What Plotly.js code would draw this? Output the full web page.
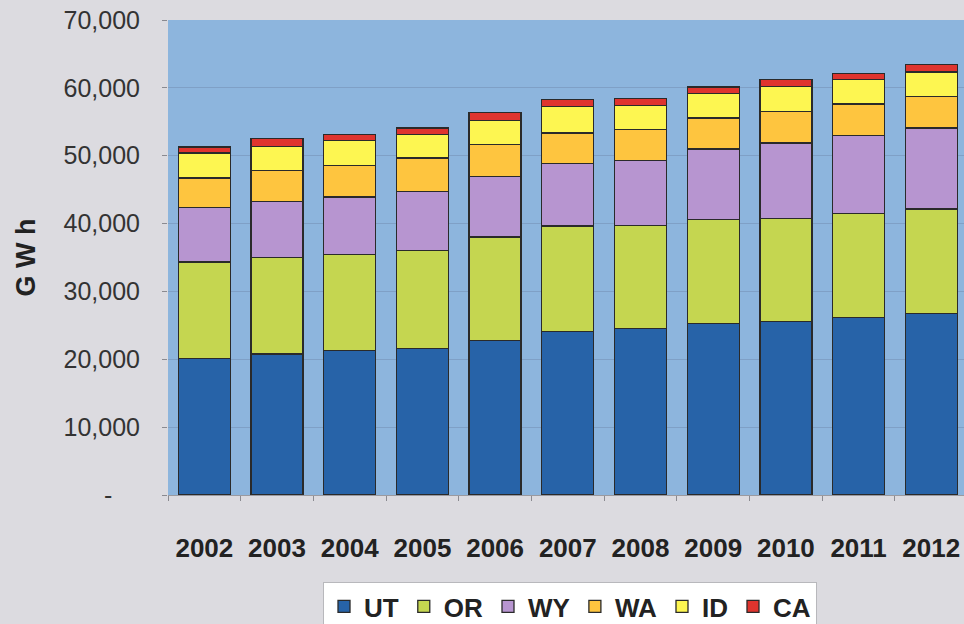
<!DOCTYPE html>
<html>
<head>
<meta charset="utf-8">
<script src="https://cdn.plot.ly/plotly-3.0.1.min.js"></script>
<style>
html,body{margin:0;padding:0;background:#dcdbe0;}
#chart{width:964px;height:624px;}
</style>
</head>
<body>
<div id="chart"></div>
<script>
var years = ["2002","2003","2004","2005","2006","2007","2008","2009","2010","2011","2012"];
var UT = [20070,20760,21250,21640,22770,24050,24540,25230,25530,26170,26710];
var OR = [14270,14260,14160,14410,15250,15590,15150,15350,15250,15290,15450];
var WY = [8060,8260,8520,8710,8950,9200,9640,10420,11110,11510,11940];
var WA = [4330,4580,4620,4920,4680,4530,4530,4580,4580,4630,4580];
var ID = [3690,3540,3730,3440,3580,3870,3590,3540,3690,3640,3640];
var CA = [880,1090,890,980,1180,1030,980,990,1030,880,1130];
var yTickVals = [0,10000,20000,30000,40000,50000,60000,70000];
var yTickText = ["-\u00a0\u00a0\u00a0\u00a0","10,000","20,000","30,000","40,000","50,000","60,000","70,000"];

var seriesNames = ["UT","OR","WY","WA","ID","CA"];
var seriesData = [UT,OR,WY,WA,ID,CA];
var seriesColors = ["#2763a8","#c5d650","#b795d0","#fec53f","#fdf651","#df342e"];

var FONT = "'Liberation Sans',Arial,sans-serif";

var traces = seriesNames.map(function(n,i){
  return {
    type:"bar", name:n, x:years, y:seriesData[i],
    marker:{color:seriesColors[i], line:{color:"#2a2a2a", width:1.3}},
    hoverinfo:"x+y+name"
  };
});

var layout = {
  width:964, height:624,
  barmode:"stack", bargap:0.285,
  paper_bgcolor:"#dcdbe0", plot_bgcolor:"#8db5dd",
  margin:{l:168, r:0, t:20, b:129},
  font:{family:FONT, color:"#2b2b2b"},
  xaxis:{
    type:"category", range:[-0.5,10.45],
    showgrid:false, zeroline:false,
    showline:true, linecolor:"#9a9aa0", linewidth:1,
    ticks:"outside", tickson:"boundaries", ticklen:5, tickcolor:"#8a8a90",
    tickangle:0,
    ticklabelstandoff:30,
    tickfont:{family:FONT, size:26, color:"#222", weight:"bold"}
  },
  yaxis:{
    range:[0,70000], tickvals:yTickVals, ticktext:yTickText,
    showgrid:true, gridcolor:"#7fa0c6", gridwidth:1,
    zeroline:false, showline:false,
    ticks:"outside", ticklen:5, tickcolor:"#8a8a90",
    ticklabelstandoff:17,
    tickfont:{family:FONT, size:25, color:"#333"},
    title:{text:"G W h", standoff:20, font:{family:FONT, size:27, color:"#222", weight:"bold"}}
  },
  showlegend:true,
  legend:{
    orientation:"h", xref:"container", yref:"container",
    x:570/964, xanchor:"center", y:1-582/624, yanchor:"top",
    bgcolor:"#ffffff", bordercolor:"#b8b8bc", borderwidth:1,
    traceorder:"normal",
    font:{family:FONT, size:26, color:"#222", weight:"bold"},
    itemwidth:30
  }
};

Plotly.newPlot("chart", traces, layout, {displayModeBar:false, staticPlot:true});
</script>
</body>
</html>
